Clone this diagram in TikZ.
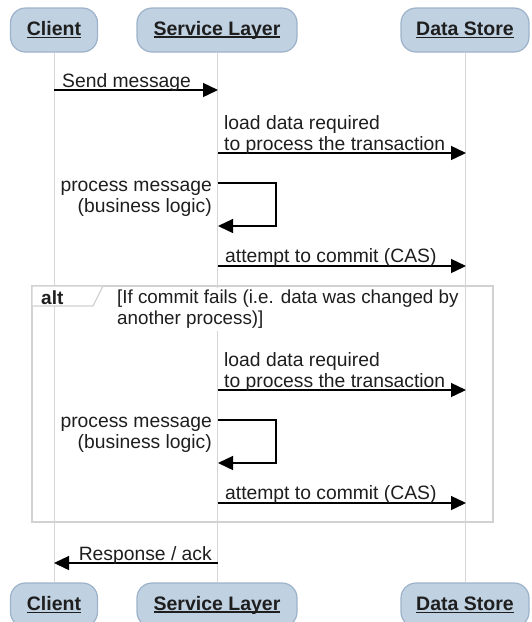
\documentclass[tikz,border=0pt]{standalone}
\usepackage{fontspec}
\setmainfont{Liberation Sans}
\usetikzlibrary{arrows.meta}
\definecolor{boxfill}{HTML}{C0D1E1}
\definecolor{boxborder}{HTML}{9CB2CA}
\definecolor{lifegray}{HTML}{D6D6D6}
\definecolor{framegray}{HTML}{D2D2D2}
\definecolor{txt}{HTML}{1E1E1E}
\newcommand{\hdul}[1]{\setbox0\hbox{#1}\rlap{\rule[-2.6pt]{\wd0}{1.3pt}}\box0}
\begin{document}
\begin{tikzpicture}[x=1pt,y=-1pt,
  actor/.style={draw=boxborder, fill=boxfill, rounded corners=15pt, line width=1.2pt,
    minimum height=44pt, inner sep=0pt, text=txt,
    font=\fontsize{19.5}{22}\selectfont\bfseries},
  lifeline/.style={draw=lifegray, line width=1pt},
  msg/.style={draw=black, line width=1.4pt, -{Triangle[length=15pt,width=14pt]}},
  lbl/.style={font=\fontsize{19.3}{21}\selectfont, inner sep=0pt, text=txt},
  framebox/.style={draw=framegray, line width=1.2pt},
]
\useasboundingbox (0,0) rectangle (532,622);
\begin{scope}
\clip (0,0) rectangle (532,622);
% actors
\node[actor, minimum width=87pt]  (c1) at (54,30)  {\hdul{Client}};
\node[actor, minimum width=160pt] (s1) at (217,30) {\hdul{Service Layer}};
\node[actor, minimum width=128pt] (d1) at (465,30) {\hdul{Data Store}};
\node[actor, minimum width=87pt]  (c2) at (54,605)  {\hdul{Client}};
\node[actor, minimum width=160pt] (s2) at (217,605) {\hdul{Service Layer}};
\node[actor, minimum width=128pt] (d2) at (465,605) {\hdul{Data Store}};
\end{scope}
% lifelines
\draw[lifeline] (c1.south) -- (c2.north);
\draw[lifeline] (s1.south) -- (s2.north);
\draw[lifeline] (d1.south) -- (d2.north);

% alt frame
\draw[framebox] (32,286) rectangle (493,522);
\draw[framebox, fill=white] (32,286) -- (103,286) -- (93,306) -- (32,306) -- cycle;
\node[lbl, anchor=base west, font=\fontsize{19}{21}\selectfont\bfseries] (alt) at (41,304) {alt};
\node[lbl, anchor=north west, fill=white, inner xsep=0pt, inner ysep=2pt, align=left,
  font=\fontsize{18.8}{21}\selectfont] (guard) at (117,288)
  {[If commit fails (i.e. data was changed by\\another process)]};

% coordinates on lifelines
\coordinate (m1a) at (54,90);   \coordinate (m1b) at (218,90);
\coordinate (m2a) at (218,153); \coordinate (m2b) at (466,153);
\coordinate (m3a) at (218,183); \coordinate (m3b) at (218,226);
\coordinate (m4a) at (218,266); \coordinate (m4b) at (466,266);
\coordinate (m5a) at (218,390); \coordinate (m5b) at (466,390);
\coordinate (m6a) at (218,420); \coordinate (m6b) at (218,463);
\coordinate (m7a) at (218,503); \coordinate (m7b) at (466,503);
\coordinate (m8a) at (218,563); \coordinate (m8b) at (54,563);

% messages
\draw[msg] (m1a) -- (m1b);
\node[lbl, anchor=base west] (l1) at (62,87) {Send message};

\draw[msg] (m2a) -- (m2b);
\node[lbl, anchor=base west, align=left] (l2) at (224,150) {load data required\\to process the transaction};

\draw[msg] (m3a) -- ++(58,0) |- (m3b);
\node[lbl, anchor=base east, align=right] (l3) at (212,212) {process message\\(business logic)};

\draw[msg] (m4a) -- (m4b);
\node[lbl, anchor=base west] (l4) at (225,262) {attempt to commit (CAS)};

\draw[msg] (m5a) -- (m5b);
\node[lbl, anchor=base west, align=left] (l5) at (224,387) {load data required\\to process the transaction};

\draw[msg] (m6a) -- ++(58,0) |- (m6b);
\node[lbl, anchor=base east, align=right] (l6) at (212,448) {process message\\(business logic)};

\draw[msg] (m7a) -- (m7b);
\node[lbl, anchor=base west] (l7) at (225,499) {attempt to commit (CAS)};

\draw[msg] (m8a) -- (m8b);
\node[lbl, anchor=base east] (l8) at (212,560) {Response / ack};
\end{tikzpicture}
\end{document}
